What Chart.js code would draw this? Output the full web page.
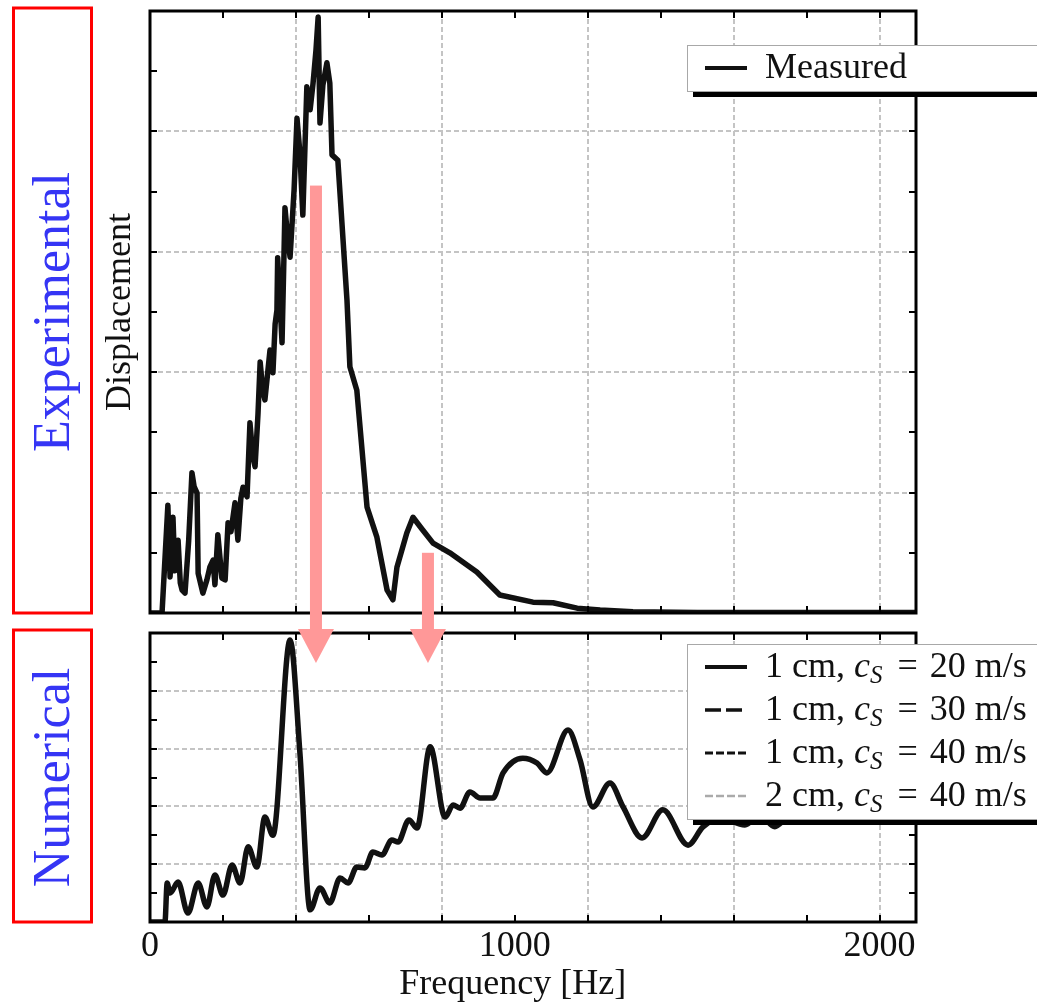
<!DOCTYPE html>
<html>
<head>
<meta charset="utf-8">
<script src="https://cdn.jsdelivr.net/npm/chart.js@4.4.1/dist/chart.umd.min.js"></script>
<style>
  body { margin: 0; background: #fff; }
  #wrap { position: relative; width: 1037px; height: 1005px; }
  canvas { position: absolute; left: 0; }
</style>
</head>
<body>
<div id="wrap">
  <canvas id="expChart" width="1037" height="625" style="top:0"></canvas>
  <canvas id="numChart" width="1037" height="380" style="top:625px"></canvas>
  <canvas id="marks" width="1037" height="1005" style="top:0;pointer-events:none"></canvas>
</div>
<script>
// measured displacement spectrum
var measFreq = [0, 33, 49, 55, 63, 68, 77, 83, 88, 96, 106, 115, 121, 129, 132, 145, 156, 164, 173, 178,
  186, 197, 206, 214, 222, 233, 241, 249, 255, 266, 274, 282, 288, 296, 302, 309, 315, 329, 337, 343,
  348, 350, 356, 362, 367, 370, 378, 384, 395, 403, 411, 419, 430, 439, 447, 455, 461, 466, 474, 485,
  493, 499, 515, 540, 548, 567, 595, 622, 650, 666, 677, 704, 721, 745, 776, 822, 896, 959, 1050, 1105,
  1171, 1234, 1324, 1500, 1800, 2100];
var measDisp = [0, 0, 1.79, 0.60, 1.59, 0.70, 1.21, 0.50, 0.38, 0.33, 1.20, 2.33, 2.10, 1.99, 0.66, 0.33, 0.55, 0.76, 0.88, 0.47,
  1.30, 0.58, 0.55, 1.50, 1.35, 1.83, 1.21, 1.90, 2.09, 1.93, 3.16, 2.60, 2.43, 3.30, 4.17, 3.70, 3.54, 4.37, 3.99, 4.80,
  5.03, 5.90, 5.20, 4.49, 5.86, 6.73, 6.20, 5.91, 7.03, 8.22, 7.64, 6.61, 8.74, 8.36, 8.80, 9.35, 9.90, 8.14, 8.77, 9.14,
  8.80, 7.61, 7.52, 5.20, 4.09, 3.70, 1.76, 1.26, 0.38, 0.22, 0.76, 1.33, 1.59, 1.40, 1.16, 1.00, 0.68, 0.30, 0.18, 0.17,
  0.08, 0.05, 0.02, 0.01, 0.01, 0.01];

// simulated spectrum, 1 cm, cS = 20 m/s
var simFreq = [0, 41, 47, 55, 77, 104, 132, 156, 178, 200, 225, 247, 269, 293, 315, 337, 384, 411, 439, 466,
  493, 521, 543, 567, 589, 611, 636, 663, 680, 710, 732, 768, 809, 831, 850, 877, 905, 940, 968, 1022,
  1061, 1088, 1146, 1179, 1214, 1261, 1297, 1349, 1406, 1475, 1516, 1562, 1631, 1672, 1713, 1749, 1782];
var simDisp = [0, 0, 1.35, 1.00, 1.38, 0.31, 1.35, 0.52, 1.63, 0.93, 1.97, 1.35, 2.60, 1.90, 3.63, 3.00, 9.76, 5.85, 0.42, 1.18,
  0.66, 1.52, 1.35, 1.90, 1.87, 2.42, 2.32, 2.84, 2.77, 3.53, 3.25, 6.06, 3.63, 4.05, 3.94, 4.50, 4.29, 4.29, 5.16, 5.67,
  5.50, 5.16, 6.64, 5.61, 3.98, 4.81, 3.98, 2.91, 3.88, 2.66, 3.29, 3.60, 3.36, 3.70, 3.30, 3.60, 3.50];

var meshSizes = ['1 cm', '1 cm', '1 cm', '2 cm'];
var shearSpeeds = [20, 30, 40, 40];
var xLabelValues = [0, 1000, 2000];
var xTitle = 'Frequency [Hz]';
var yTitle = 'Displacement';
var panelNames = ['Experimental', 'Numerical'];

// arrows: frequency, start level on the upper panel, tip level on the lower panel
var arrowFreq = [455, 762];
var arrowFrom = [7.1, 1.0];
var arrowTo = [8.96, 8.96];

var SERIF = "'Liberation Serif', 'Times New Roman', serif";
Chart.defaults.font.family = SERIF;
Chart.defaults.font.size = 36;
Chart.defaults.color = '#111';

function pts(xs, ys) {
  return xs.map(function (x, i) { return { x: x, y: ys[i] }; });
}

function xScale(showLabels) {
  return {
    type: 'linear', min: 0, max: 2100,
    border: { display: false, dash: [5, 3] },
    grid: {
      drawTicks: false, lineWidth: 2,
      color: function (c) { return c.tick && c.tick.value > 0 && c.tick.value % 400 === 0 ? '#c4c4c4' : 'rgba(0,0,0,0)'; }
    },
    ticks: {
      display: showLabels, stepSize: 200, includeBounds: false, autoSkip: false, maxRotation: 0, padding: 3,
      callback: function (v) { return xLabelValues.indexOf(v) >= 0 ? String(v) : ''; }
    },
    afterFit: function (s) { s.height = showLabels ? 83 : 0; }
  };
}

function yScale(title) {
  return {
    type: 'linear', min: 0, max: 10,
    border: { display: false, dash: [5, 3] },
    grid: {
      drawTicks: false, lineWidth: 2,
      color: function (c) { return c.tick && c.tick.value > 0 && c.tick.value < 10 && c.tick.value % 2 === 0 ? '#c4c4c4' : 'rgba(0,0,0,0)'; }
    },
    ticks: { display: false, stepSize: 1, includeBounds: false },
    title: { display: !!title, text: title || '', font: { size: 36 }, padding: { top: 99, bottom: 0 } },
    afterFit: function (s) { s.width = 150; }
  };
}

// box frame and inward tick marks on all four sides
var framePlugin = {
  id: 'frame',
  afterDatasetsDraw: function (chart) {
    var a = chart.chartArea, ctx = chart.ctx, xs = chart.scales.x, ys = chart.scales.y;
    ctx.save();
    ctx.strokeStyle = '#000';
    ctx.lineWidth = 2;
    ctx.beginPath();
    xs.ticks.forEach(function (t) {
      if (t.value <= xs.min || t.value >= xs.max) return;
      var px = Math.round(xs.getPixelForValue(t.value));
      ctx.moveTo(px, a.bottom); ctx.lineTo(px, a.bottom - 7);
      ctx.moveTo(px, a.top); ctx.lineTo(px, a.top + 7);
    });
    ys.ticks.forEach(function (t) {
      if (t.value <= ys.min || t.value >= ys.max) return;
      var py = Math.round(ys.getPixelForValue(t.value));
      ctx.moveTo(a.left, py); ctx.lineTo(a.left + 7, py);
      ctx.moveTo(a.right, py); ctx.lineTo(a.right - 7, py);
    });
    ctx.stroke();
    ctx.lineWidth = 3;
    ctx.strokeRect(a.left, a.top, a.right - a.left, a.bottom - a.top);
    if (chart.options.plugins.frame && chart.options.plugins.frame.xTitle) {
      ctx.fillStyle = '#111';
      ctx.font = '36px ' + SERIF;
      ctx.textAlign = 'center';
      ctx.textBaseline = 'middle';
      ctx.fillText(chart.options.plugins.frame.xTitle, xs.getPixelForValue(1000) - 2, a.bottom + 63);
    }
    ctx.restore();
  }
};

// label text with an italic c and subscript S, wider spacing round "="
function drawRich(ctx, text, x, y) {
  var parts = text.split('c_S');
  ctx.font = '36px ' + SERIF;
  ctx.fillText(parts[0], x, y);
  x += ctx.measureText(parts[0]).width;
  if (parts.length > 1) {
    ctx.font = 'italic 36px ' + SERIF;
    ctx.fillText('c', x, y);
    x += ctx.measureText('c').width;
    ctx.font = 'italic 25px ' + SERIF;
    ctx.fillText('S', x, y + 8);
    x += ctx.measureText('S').width + 3;
    ctx.font = '36px ' + SERIF;
    ctx.fillText(parts[1].replace(' = ', '\u2004=\u2004'), x, y);
  }
}

var legendPlugin = {
  id: 'boxLegend',
  afterDraw: function (chart, args, opts) {
    var ctx = chart.ctx, sets = chart.data.datasets;
    var x = opts.x, y = opts.y, w = 400, h = 46 + 43 * (sets.length - 1);
    ctx.save();
    ctx.fillStyle = '#000';
    ctx.fillRect(x + 6, y + 6, w, h);
    ctx.fillStyle = '#fff';
    ctx.fillRect(x, y, w, h);
    ctx.strokeStyle = '#a8a8a8';
    ctx.lineWidth = 1;
    ctx.strokeRect(x + 0.5, y + 0.5, w, h);
    sets.forEach(function (ds, i) {
      var cy = y + 23 + 43 * i;
      ctx.strokeStyle = ds.borderColor;
      ctx.lineWidth = Math.min(ds.borderWidth, 4);
      ctx.setLineDash(ds.borderDash || []);
      ctx.beginPath();
      ctx.moveTo(x + 18, cy);
      ctx.lineTo(x + 60, cy);
      ctx.stroke();
      ctx.setLineDash([]);
      ctx.fillStyle = '#111';
      ctx.textAlign = 'left';
      ctx.textBaseline = 'middle';
      drawRich(ctx, ds.label, x + 78, cy + 1);
    });
    ctx.restore();
  }
};

var expChart = new Chart('expChart', {
  type: 'line',
  data: {
    datasets: [{
      label: 'Measured', data: pts(measFreq, measDisp),
      borderColor: '#111', borderWidth: 5.5, pointRadius: 0, tension: 0, borderJoinStyle: 'round'
    }]
  },
  options: {
    responsive: false, animation: false, events: [],
    layout: { padding: { left: 0, top: 11, right: 121, bottom: 12 } },
    scales: { x: xScale(false), y: yScale(yTitle) },
    plugins: { legend: { display: false }, tooltip: { enabled: false }, boxLegend: { x: 687, y: 45 } }
  },
  plugins: [framePlugin, legendPlugin]
});

var dashes = [[], [16, 5], [8, 3], [8, 3]];
var colors = ['#111', '#111', '#111', '#aaa'];
var widths = [5.5, 3.5, 3, 2.5];
var simSets = meshSizes.map(function (m, i) {
  return {
    label: m + ', c_S = ' + shearSpeeds[i] + ' m/s',
    data: i === 0 ? pts(simFreq, simDisp) : [],
    borderColor: colors[i], borderWidth: widths[i], borderDash: dashes[i],
    pointRadius: 0, cubicInterpolationMode: 'monotone', borderJoinStyle: 'round'
  };
});

var numChart = new Chart('numChart', {
  type: 'line',
  data: { datasets: simSets },
  options: {
    responsive: false, animation: false, events: [],
    layout: { padding: { left: 0, top: 8, right: 121, bottom: 0 } },
    scales: { x: xScale(true), y: yScale(null) },
    plugins: { legend: { display: false }, tooltip: { enabled: false }, frame: { xTitle: xTitle }, boxLegend: { x: 687, y: 19 } }
  },
  plugins: [framePlugin, legendPlugin]
});

// panel name boxes and the pink arrows linking the two panels
(function () {
  var ctx = document.getElementById('marks').getContext('2d');
  var off = 625;
  var areas = [
    { top: expChart.chartArea.top, bottom: expChart.chartArea.bottom },
    { top: off + numChart.chartArea.top, bottom: off + numChart.chartArea.bottom }
  ];
  areas.forEach(function (a, i) {
    ctx.strokeStyle = '#ff0000';
    ctx.lineWidth = 3;
    ctx.strokeRect(13.5, a.top - 3, 78, a.bottom - a.top + 3);
    ctx.save();
    ctx.translate(53, (a.top + a.bottom) / 2);
    ctx.rotate(-Math.PI / 2);
    ctx.fillStyle = '#3535f5';
    ctx.font = '52px ' + SERIF;
    ctx.textAlign = 'center';
    ctx.textBaseline = 'middle';
    ctx.fillText(panelNames[i], 0, 2);
    ctx.restore();
  });

  ctx.fillStyle = '#ff9898';
  arrowFreq.forEach(function (f, i) {
    var x = expChart.scales.x.getPixelForValue(f);
    var y0 = expChart.scales.y.getPixelForValue(arrowFrom[i]);
    var tip = off + numChart.scales.y.getPixelForValue(arrowTo[i]);
    var headH = 34, headW = 36, shaftW = 12;
    ctx.fillRect(x - shaftW / 2, y0, shaftW, tip - headH - y0 + 1);
    ctx.beginPath();
    ctx.moveTo(x - headW / 2, tip - headH);
    ctx.lineTo(x + headW / 2, tip - headH);
    ctx.lineTo(x, tip);
    ctx.closePath();
    ctx.fill();
  });
})();
</script>
</body>
</html>
